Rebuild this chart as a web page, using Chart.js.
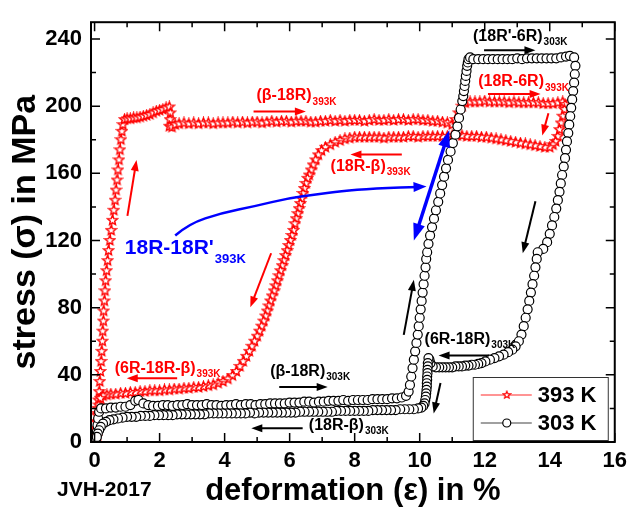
<!DOCTYPE html>
<html>
<head>
<meta charset="utf-8">
<script src="https://cdn.jsdelivr.net/npm/chart.js@4.4.1/dist/chart.umd.min.js"></script>
<style>
  html, body { margin: 0; padding: 0; background: #fff; }
  canvas { display: block; }
</style>
</head>
<body>
<canvas id="stressChart" width="633" height="507"></canvas>
<script>
// Tick labels
const xTicks = [0, 2, 4, 6, 8, 10, 12, 14, 16];
const yTicks = [0, 40, 80, 120, 160, 200, 240];

// 393 K cycle, [deformation %, stress MPa]
const hotLoading = [
  [0.03,0],[0.04,4],[0.05,8],[0.06,12],[0.08,16],[0.1,20],[0.12,25],[0.14,30],[0.16,36],[0.18,42],
  [0.2,48],[0.22,54],[0.24,60],[0.25,66],[0.27,72],[0.28,78],[0.3,84],[0.32,90],[0.34,96],[0.37,102],
  [0.4,108],[0.43,114],[0.47,120],[0.51,126],[0.55,132],[0.59,138],[0.63,144],[0.66,150],[0.69,156],
  [0.72,162],[0.75,168],[0.78,174],[0.81,180],[0.84,185],[0.87,189],[0.92,192],
  [1.0,192.5],[1.1,192.5],[1.2,193],[1.3,193],[1.4,193.5],[1.5,194],[1.6,194.5],[1.7,195],[1.8,196],
  [1.9,197],[2.0,197.5],[2.1,198],[2.2,199],[2.3,199.5],[2.33,196],[2.32,192],[2.3,188],[2.38,187.5],[2.48,189],
  [2.6,189.5],[2.75,190],[2.9,189.5],[3.05,190],[3.2,189.5],[3.35,190],[3.5,190],[3.65,189.5],[3.8,190],
  [3.95,190],[4.1,190],[4.25,190.5],[4.4,190],[4.55,190.5],[4.7,190],[4.85,190.5],[5.0,190.5],[5.15,190],
  [5.3,190.5],[5.45,191],[5.6,190.5],[5.75,191],[5.9,191],[6.05,190.5],[6.2,191],[6.35,191],[6.5,191],
  [6.65,190.5],[6.8,190.5],[6.95,191],[7.1,191],[7.25,191.5],[7.4,191],[7.55,191.5],[7.7,191],[7.85,191.5],
  [8.0,191.5],[8.15,191.5],[8.3,191],[8.45,191.5],[8.6,192],[8.75,191.5],[8.9,191.5],[9.05,192],[9.2,191.5],
  [9.35,192],[9.5,192],[9.65,191.5],[9.8,192],[9.95,192],[10.1,191.5],[10.25,191.5],[10.4,191],[10.55,191],
  [10.7,190.5],[10.85,190],[11.0,189],
  [11.1,192],[11.2,196],[11.3,200],[11.4,202],
  [11.55,202.5],[11.7,202.5],[11.85,202.5],[12.0,203],[12.15,202.5],[12.3,202.5],[12.45,202.5],[12.6,202.5],
  [12.75,202],[12.9,202.5],[13.05,202],[13.2,202],[13.35,202],[13.5,202],[13.65,202],[13.8,201.5],
  [13.95,201.5],[14.1,201.5],[14.25,202],[14.4,202.5],[14.47,201],
  [14.45,198],[14.4,194],[14.35,190],[14.3,186],[14.25,182],[14.18,179],[14.1,177],[14.0,175.5]
];
const hotUnloading = [
  [13.85,175.5],[13.7,176],[13.55,176.5],[13.4,177],[13.25,177.5],[13.1,178],[12.95,178.5],[12.8,179],
  [12.65,179.5],[12.5,180],[12.35,180.5],[12.2,181],[12.05,181.5],[11.9,181.5],[11.75,182],[11.6,182],
  [11.45,182],[11.3,182.5],[11.15,182.5],[11.0,182.5],[10.85,182],[10.7,182],[10.55,182],[10.4,182],
  [10.25,182],[10.1,182],[9.95,181.5],[9.8,182],[9.65,182],[9.5,181.5],[9.35,181.5],[9.2,181.5],[9.05,181.5],
  [8.9,181],[8.75,181.5],[8.6,181.5],[8.45,181.5],[8.3,181.5],[8.15,181.5],[8.0,181.5],[7.85,181],
  [7.7,180.5],[7.55,179.5],[7.4,178.5],[7.25,177],[7.1,175.5],[6.98,173.5],[6.88,171],[6.8,168],[6.72,165],
  [6.66,162],[6.6,159],[6.55,157],[6.5,154],[6.45,151],[6.41,148],[6.37,145],[6.33,142],[6.29,139],
  [6.25,136],[6.2,133],[6.16,130],[6.12,126],[6.07,123],[6.02,120],[5.97,117],[5.92,114],[5.87,111],
  [5.82,108],[5.77,105],[5.72,102],[5.67,99],[5.62,96],[5.57,93],[5.52,90],[5.46,87],[5.41,84],[5.36,81],
  [5.31,78],[5.26,75],[5.2,72],[5.14,69],[5.07,66],[5.0,63],[4.92,60],[4.84,57],[4.76,54],[4.67,51],
  [4.57,48],[4.47,45],[4.36,42],[4.24,39.5],[4.1,37.5],[3.95,36],[3.8,35],[3.65,34],[3.5,33.5],[3.35,33],
  [3.2,32.5],[3.05,32.5],[2.9,32],[2.75,32],[2.6,31.5],[2.45,31.5],[2.3,31],[2.15,31],[2.0,30.5],[1.85,30.5],
  [1.7,30.5],[1.55,30],[1.4,30],[1.25,29.5],[1.1,29.5],[0.95,29],[0.8,29],[0.65,28.5],[0.5,28.5],[0.38,28],
  [0.26,27.5],[0.18,26],[0.13,22],[0.1,17],[0.08,12],[0.06,7],[0.05,3]
];

// 303 K cycle
const roomLoading = [
  [0.05,2],[0.07,6],[0.09,10],[0.11,14],[0.14,18],[0.2,20],[0.35,20],[0.5,20.5],[0.65,20.5],[0.8,21],
  [0.95,21],[1.1,22],[1.25,24.5],[1.35,25],[1.5,23],[1.65,22],[1.8,21.5],[1.95,21.5],[2.1,22],[2.25,22],
  [2.4,21.5],[2.55,22],[2.7,22],[2.85,22.5],[3.0,22],[3.15,22],[3.3,22],[3.45,22.5],[3.6,22],[3.75,22],
  [3.9,21.5],[4.05,22],[4.2,22],[4.35,22.5],[4.5,22],[4.65,22.5],[4.8,22.5],[4.95,22],[5.1,22.5],[5.25,22.5],
  [5.4,23],[5.55,23],[5.7,23],[5.85,23],[6.0,23.5],[6.15,23.5],[6.3,23.5],[6.45,24],[6.6,24],[6.75,23.5],
  [6.9,24],[7.05,24],[7.2,24.5],[7.35,24.5],[7.5,24.5],[7.65,25],[7.8,24.5],[7.95,25],[8.1,25],[8.25,25],
  [8.4,25],[8.55,25.5],[8.7,25.5],[8.85,25.5],[9.0,25.5],[9.15,26],[9.3,26],[9.45,26.5],[9.58,27.5],
  [9.66,30],[9.7,34],[9.74,39],[9.78,44],[9.82,49],[9.86,54],[9.9,59],[9.94,64],[9.97,69],[10.0,74],
  [10.03,79],[10.06,84],[10.09,89],[10.12,94],[10.15,99],[10.18,104],[10.2,109],[10.23,113],[10.27,118],
  [10.32,123],[10.38,128],[10.44,133],[10.5,138],[10.57,143],[10.63,148],[10.69,153],[10.75,158],
  [10.81,163],[10.87,168],[10.95,173],[11.02,178],[11.1,183],[11.16,188],[11.21,193],[11.26,198],
  [11.31,203],[11.34,206],[11.36,209],[11.38,212],[11.4,215],[11.42,218],[11.44,221],[11.46,224],
  [11.48,226],[11.5,228],[11.55,229],
  [11.65,228],[11.8,228],[11.95,228],[12.1,228],[12.25,228],[12.4,228],[12.55,228],[12.7,228],[12.85,228],
  [13.0,228.5],[13.15,228],[13.3,228.5],[13.45,228.5],[13.6,228.5],[13.75,228.5],[13.9,228.5],[14.05,228.5],
  [14.2,228.5],[14.35,229],[14.5,229.5],[14.62,230],[14.75,229]
];
const roomUnloading = [
  [14.79,224],[14.77,219],[14.75,214],[14.72,209],[14.69,204],[14.66,199],[14.63,194],[14.6,189],
  [14.57,184],[14.53,179],[14.5,174],[14.47,169],[14.43,164],[14.38,159],[14.34,154],[14.3,149],
  [14.25,144],[14.2,139],[14.14,134],[14.07,129],[14.0,124],[13.92,119],[13.8,115],[13.63,113],
  [13.6,109],[13.56,104],[13.52,99],[13.47,94],[13.42,89],[13.37,84],[13.32,79],[13.26,74],[13.2,69],
  [13.13,64],[13.05,60],[12.95,57],[12.85,55],[12.72,53.5],[12.58,52],[12.44,51],[12.3,50],[12.16,49],
  [12.02,48],[11.9,47],[11.8,46.5],[11.7,46],[11.6,46],[11.5,45.5],[11.4,45.5],[11.3,45],[11.2,45],
  [11.1,45],[11.0,44.5],[10.9,44.5],[10.8,44.5],[10.7,44.5],[10.6,44.5],[10.5,44.5],[10.4,45],[10.33,47],
  [10.3,49],[10.27,50],[10.25,47],[10.25,45],[10.24,43],[10.24,41],[10.23,39],[10.23,37],[10.22,35],
  [10.22,33],[10.21,31],[10.2,29],[10.19,27],[10.17,25],[10.15,23],[10.11,21.5],[10.05,20.5],[9.95,20],
  [9.82,19.5],[9.68,19.5],[9.54,19.5],[9.4,19.5],[9.26,19],[9.12,19],[8.98,19],[8.84,19],[8.7,19],
  [8.56,19],[8.42,18.5],[8.28,18.5],[8.14,18.5],[8.0,18.5],[7.86,18.5],[7.72,18.5],[7.58,18.5],[7.44,18.5],
  [7.3,18],[7.16,18],[7.02,18],[6.88,18],[6.74,18],[6.6,18],[6.46,18],[6.32,18],[6.18,17.5],[6.04,17.5],
  [5.9,17.5],[5.76,17.5],[5.62,17.5],[5.48,17.5],[5.34,17.5],[5.2,17.5],[5.06,17.5],[4.92,17],[4.78,17.5],
  [4.64,17],[4.5,17],[4.36,17],[4.22,17],[4.08,17],[3.94,17],[3.8,17],[3.66,17],[3.52,17],[3.38,16.5],
  [3.24,16.5],[3.1,16.5],[2.96,16.5],[2.82,16.5],[2.68,16.5],[2.54,16.5],[2.4,16],[2.26,16],[2.12,16],
  [1.98,16],[1.84,16],[1.7,15.5],[1.56,15.5],[1.42,15.5],[1.28,15],[1.14,15],[1.0,15],[0.86,14.5],
  [0.72,14],[0.58,13.5],[0.46,13],[0.35,12],[0.26,11],[0.19,9],[0.14,7],[0.1,5],[0.07,3]
];

const FONT = '"Liberation Sans", Arial, sans-serif';
const RED = '#ff0000';
const BLUE = '#0000ff';

// Labels + arrows, given in data units (x %, y MPa)
const notes = [
  { text: '(\u03b2-18R)', sub: '393K', x: 4.98, y: 206, color: RED, size: 16, subSize: 10, subDy: 6 },
  { text: '(18R-6R)', sub: '393K', x: 11.8, y: 214.5, color: RED, size: 16, subSize: 10, subDy: 6 },
  { text: '(18R-\u03b2)', sub: '393K', x: 7.26, y: 164, color: RED, size: 16, subSize: 10, subDy: 6 },
  { text: '(6R-18R-\u03b2)', sub: '393K', x: 0.62, y: 44, color: RED, size: 16, subSize: 10, subDy: 6 },
  { text: "(18R'-6R)", sub: '303K', x: 11.64, y: 241.5, color: '#000', size: 16, subSize: 10, subDy: 6 },
  { text: '(\u03b2-18R)', sub: '303K', x: 5.4, y: 42, color: '#000', size: 16, subSize: 10, subDy: 6 },
  { text: '(18R-\u03b2)', sub: '303K', x: 6.59, y: 10, color: '#000', size: 16, subSize: 10, subDy: 6 },
  { text: '(6R-18R)', sub: '303K', x: 10.15, y: 61, color: '#000', size: 16, subSize: 10, subDy: 6 },
  { text: "18R-18R'", sub: '393K', x: 0.93, y: 115.6, color: BLUE, size: 21, subSize: 13, subDy: 12 }
];
const arrows = [
  { from: [4.89, 196.8], to: [6.5, 196.8], color: RED },
  { from: [12.1, 207.3], to: [13.72, 207.3], color: RED },
  { from: [13.96, 195.8], to: [13.77, 182.5], color: RED },
  { from: [9.45, 171.2], to: [7.87, 171.2], color: RED },
  { from: [1.01, 134.7], to: [1.29, 168], color: RED },
  { from: [5.43, 112.4], to: [4.79, 80.2], color: RED },
  { from: [2.54, 38], to: [0.99, 38], color: RED },
  { from: [11.98, 233.3], to: [13.56, 233.3], color: '#000' },
  { from: [5.68, 32.8], to: [7.17, 32.8], color: '#000' },
  { from: [6.4, 8.2], to: [4.82, 8.2], color: '#000' },
  { from: [12.13, 51.5], to: [10.58, 51.5], color: '#000' },
  { from: [9.51, 63.8], to: [9.82, 96.6], color: '#000' },
  { from: [10.64, 35.1], to: [10.43, 17], color: '#000' },
  { from: [13.56, 143.4], to: [13.17, 112.4], color: '#000' }
];
const blueCurve = [[2.48,123],[2.9,130],[3.91,136.4],[4.95,140.5],[5.95,145.2],[6.86,147.5],[7.56,149.3],[8.6,151],[10.21,152.2]];
const blueDouble = { from: [10.91, 185.6], to: [9.82, 120] };

function makeStar(size, color, lw) {
  const c = document.createElement('canvas');
  c.width = c.height = size;
  const g = c.getContext('2d');
  const cx = size / 2, cy = size / 2, R = size / 2 - lw, r = R * 0.45;
  g.beginPath();
  for (let i = 0; i < 10; i++) {
    const a = -Math.PI / 2 + i * Math.PI / 5;
    const rad = i % 2 ? r : R;
    g.lineTo(cx + rad * Math.cos(a), cy + rad * Math.sin(a));
  }
  g.closePath();
  g.fillStyle = '#fff';
  g.fill();
  g.strokeStyle = color;
  g.lineWidth = lw;
  g.stroke();
  return c;
}
const starImg = makeStar(13, RED, 1.4);
const legendStar = makeStar(10, RED, 1.2);

const toXY = pts => pts.map(([x, y]) => ({ x, y }));

function drawHead(ctx, x, y, ang, len, half) {
  ctx.beginPath();
  ctx.moveTo(x, y);
  ctx.lineTo(x - len * Math.cos(ang) + half * Math.sin(ang), y - len * Math.sin(ang) - half * Math.cos(ang));
  ctx.lineTo(x - len * Math.cos(ang) - half * Math.sin(ang), y - len * Math.sin(ang) + half * Math.cos(ang));
  ctx.closePath();
  ctx.fill();
}

function drawArrow(ctx, x1, y1, x2, y2, color, lw, len, half, both) {
  const ang = Math.atan2(y2 - y1, x2 - x1);
  ctx.save();
  ctx.strokeStyle = color;
  ctx.fillStyle = color;
  ctx.lineWidth = lw;
  ctx.beginPath();
  const sx = both ? x1 + Math.cos(ang) * len * 0.7 : x1;
  const sy = both ? y1 + Math.sin(ang) * len * 0.7 : y1;
  ctx.moveTo(sx, sy);
  ctx.lineTo(x2 - Math.cos(ang) * len * 0.7, y2 - Math.sin(ang) * len * 0.7);
  ctx.stroke();
  drawHead(ctx, x2, y2, ang, len, half);
  if (both) drawHead(ctx, x1, y1, ang + Math.PI, len, half);
  ctx.restore();
}

const decorations = {
  id: 'decorations',
  afterDatasetsDraw(chart) {
    const ctx = chart.ctx;
    const ca = chart.chartArea;
    const xs = chart.scales.x, ys = chart.scales.y;
    const px = v => xs.getPixelForValue(v);
    const py = v => ys.getPixelForValue(v);

    ctx.save();
    // frame
    ctx.strokeStyle = '#000';
    ctx.lineWidth = 2;
    ctx.strokeRect(ca.left, ca.top, ca.right - ca.left, ca.bottom - ca.top);

    // inward ticks on all four sides
    ctx.lineWidth = 1.5;
    ctx.beginPath();
    for (let v = 0; v <= 16; v += 1) {
      const len = v % 2 === 0 ? 9 : 5;
      const x = px(v);
      ctx.moveTo(x, ca.bottom); ctx.lineTo(x, ca.bottom - len);
      ctx.moveTo(x, ca.top); ctx.lineTo(x, ca.top + len);
    }
    for (let v = 0; v <= 240; v += 20) {
      const len = v % 40 === 0 ? 9 : 5;
      const y = py(v);
      ctx.moveTo(ca.left, y); ctx.lineTo(ca.left + len, y);
      ctx.moveTo(ca.right, y); ctx.lineTo(ca.right - len, y);
    }
    ctx.stroke();

    // blue curved arrow
    ctx.strokeStyle = BLUE;
    ctx.fillStyle = BLUE;
    ctx.lineWidth = 2.5;
    ctx.beginPath();
    const bc = blueCurve.map(([x, y]) => [px(x), py(y)]);
    ctx.moveTo(bc[0][0], bc[0][1]);
    for (let i = 1; i < bc.length - 1; i++) {
      const mx = (bc[i][0] + bc[i + 1][0]) / 2, my = (bc[i][1] + bc[i + 1][1]) / 2;
      ctx.quadraticCurveTo(bc[i][0], bc[i][1], mx, my);
    }
    const last = bc[bc.length - 1], prev = bc[bc.length - 2];
    ctx.lineTo(last[0] - 8, last[1] + 0.5);
    ctx.stroke();
    drawHead(ctx, last[0], last[1], Math.atan2(last[1] - prev[1], last[0] - prev[0]), 13, 5);

    // blue double-headed arrow
    drawArrow(ctx, px(blueDouble.from[0]), py(blueDouble.from[1]), px(blueDouble.to[0]), py(blueDouble.to[1]),
      BLUE, 3.5, 17, 6, true);

    arrows.forEach(a => {
      drawArrow(ctx, px(a.from[0]), py(a.from[1]), px(a.to[0]), py(a.to[1]), a.color, 2, 11, 4, false);
    });

    // text labels with subscripts
    ctx.textAlign = 'left';
    ctx.textBaseline = 'middle';
    notes.forEach(n => {
      const x = px(n.x), y = py(n.y);
      ctx.fillStyle = n.color;
      ctx.font = `bold ${n.size}px ${FONT}`;
      ctx.fillText(n.text, x, y);
      const w = ctx.measureText(n.text).width;
      ctx.font = `bold ${n.subSize}px ${FONT}`;
      ctx.fillText(n.sub, x + w + 1, y + n.subDy);
    });

    // legend box
    const bw = 135, bh = 63;
    const bx = ca.right - 142, by = ca.bottom - 65;
    ctx.fillStyle = '#fff';
    ctx.fillRect(bx, by, bw, bh);
    ctx.strokeStyle = '#333';
    ctx.lineWidth = 1;
    ctx.strokeRect(bx + 0.5, by + 0.5, bw, bh);
    const rows = [
      { ds: chart.data.datasets[1], line: '#ff7070', y: by + 18 },
      { ds: chart.data.datasets[0], line: '#808080', y: by + 46 }
    ];
    rows.forEach(r => {
      ctx.strokeStyle = r.line;
      ctx.lineWidth = 1.5;
      ctx.beginPath();
      ctx.moveTo(bx + 8, r.y); ctx.lineTo(bx + 59, r.y);
      ctx.stroke();
      const mx = bx + 34;
      if (r.ds.pointStyle === 'circle') {
        ctx.beginPath();
        ctx.arc(mx, r.y, 4, 0, Math.PI * 2);
        ctx.fillStyle = '#fff';
        ctx.fill();
        ctx.strokeStyle = '#000';
        ctx.lineWidth = 1.2;
        ctx.stroke();
      } else {
        ctx.drawImage(legendStar, mx - 5, r.y - 5);
      }
      ctx.fillStyle = '#000';
      ctx.font = `bold 22px ${FONT}`;
      ctx.fillText(r.ds.label, bx + 65, r.y + 1);
    });

    // corner tag
    ctx.fillStyle = '#000';
    ctx.font = `bold 21px ${FONT}`;
    ctx.fillText('JVH-2017', 57, 490);
    ctx.restore();
  }
};

new Chart(document.getElementById('stressChart'), {
  type: 'scatter',
  data: {
    datasets: [
      {
        label: '303 K',
        data: toXY(roomLoading.concat(roomUnloading)),
        showLine: true,
        borderColor: '#000',
        borderWidth: 1,
        pointStyle: 'circle',
        pointRadius: 4.5,
        pointBackgroundColor: '#fff',
        pointBorderColor: '#000',
        pointBorderWidth: 1.2,
        order: 0
      },
      {
        label: '393 K',
        data: toXY(hotLoading.concat(hotUnloading)),
        showLine: true,
        borderColor: RED,
        borderWidth: 1,
        pointStyle: starImg,
        pointRadius: 5,
        order: 1
      }
    ]
  },
  options: {
    responsive: false,
    animation: false,
    devicePixelRatio: 1,
    layout: { padding: { left: 0, right: 13, top: 15, bottom: 0 } },
    plugins: { legend: { display: false }, tooltip: { enabled: false } },
    scales: {
      x: {
        type: 'linear',
        min: -0.11,
        max: 16,
        afterFit: s => { s.height = 65; },
        afterBuildTicks: s => { s.ticks = xTicks.map(v => ({ value: v })); },
        grid: { display: false, drawTicks: false },
        border: { display: false },
        ticks: { color: '#000', padding: 6, font: { family: FONT, size: 22, weight: 'bold' } },
        title: {
          display: true,
          text: 'deformation (\u03b5) in %',
          color: '#000',
          padding: 0,
          font: { family: FONT, size: 31, weight: 'bold', lineHeight: 1 }
        }
      },
      y: {
        type: 'linear',
        min: 0,
        max: 250,
        afterFit: s => { s.width = 91; },
        afterBuildTicks: s => { s.ticks = yTicks.map(v => ({ value: v })); },
        grid: { display: false, drawTicks: false },
        border: { display: false },
        ticks: { color: '#000', padding: 9, font: { family: FONT, size: 22, weight: 'bold' } },
        title: {
          display: true,
          text: 'stress (\u03c3) in MPa',
          color: '#000',
          padding: { top: 5, bottom: 0 },
          font: { family: FONT, size: 34, weight: 'bold', lineHeight: 1.2 }
        }
      }
    }
  },
  plugins: [decorations]
});
</script>
</body>
</html>
